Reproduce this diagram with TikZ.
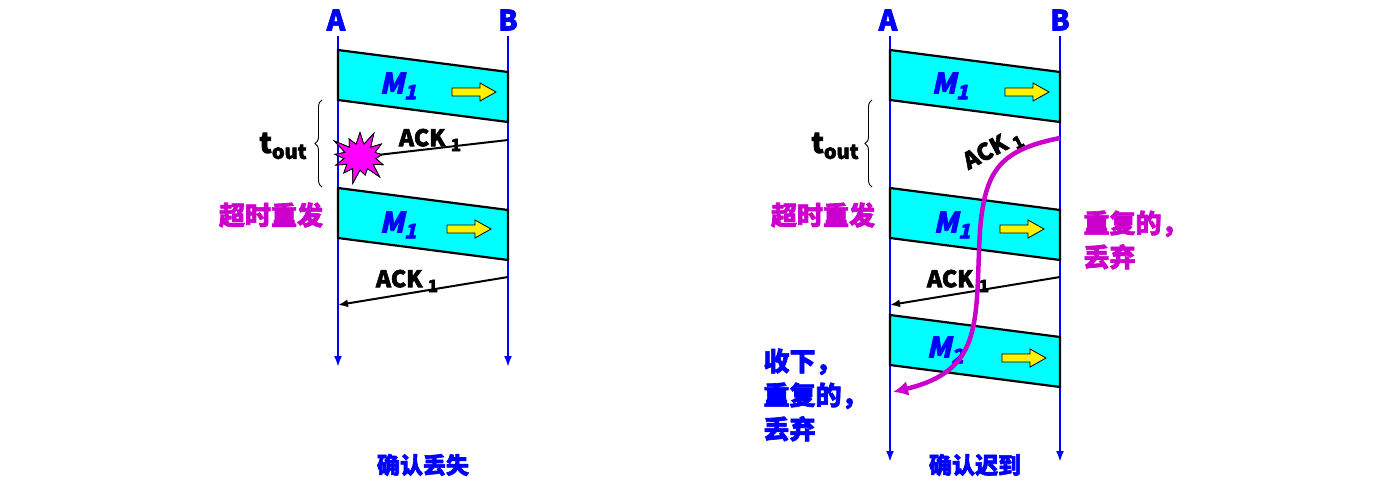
\documentclass[tikz,border=0pt]{standalone}
\usepackage{fontspec}
\setmainfont{Noto Sans CJK SC}[BoldFeatures={FakeBold=2.5}]
\newfontfamily\slfont{Noto Sans CJK SC}[FakeSlant=0.22, BoldFeatures={FakeBold=2.5}]
\usetikzlibrary{shapes.symbols,decorations.pathreplacing,arrows.meta}
\definecolor{cyanbox}{RGB}{0,255,255}
\definecolor{mag}{RGB}{204,0,204}
\definecolor{boomfill}{RGB}{255,0,255}
\tikzset{
  axis/.style={blue, line width=2.6pt, -{Latex[length=11pt,width=8pt]}},
  frame/.style={fill=cyanbox, draw=black, line width=2.2pt},
  msg/.style={blue, font=\slfont\bfseries\fontsize{28}{28}\selectfont},
  ack/.style={font=\bfseries\fontsize{23}{23}\selectfont},
  lbl/.style={font=\bfseries\fontsize{26}{34}\selectfont, align=left},
  ackline/.style={black, line width=2pt},
  boomstar/.style={starburst, starburst points=13, starburst point height=16pt, fill=boomfill, draw=black, line width=0.8pt, minimum width=64pt, minimum height=58pt, inner sep=0pt},
}
\newcommand{\yarrow}[2]{%
  \fill[yellow, draw=black, line width=0.8pt] (#1,#2-4) -- (#1+28,#2-4) -- (#1+28,#2-9) -- (#1+44,#2) -- (#1+28,#2+9) -- (#1+28,#2+4) -- (#1,#2+4) -- cycle;}
\newcommand{\acktxt}{ACK \raisebox{-5pt}{\fontsize{17}{17}\selectfont 1}}
\begin{document}
\begin{tikzpicture}[x=1pt, y=-1pt]
  \useasboundingbox (0,0) rectangle (1388,495);
  % left: ack lost
  \node[blue, font=\bfseries\fontsize{28}{28}\selectfont] (la) at (336,20) {A};
  \node[blue, font=\bfseries\fontsize{28}{28}\selectfont] (lb) at (508,20) {B};
  \draw[axis] (338,36) -- (338,367);
  \draw[axis] (508,36) -- (508,367);
  \draw[frame] (338,50) -- (508,72) -- (508,122) -- (338,100) -- cycle;
  \draw[frame] (338,188) -- (508,210) -- (508,260) -- (338,238) -- cycle;
  \node[msg] (lm1) at (398,86) {M\raisebox{-6pt}{\fontsize{20}{20}\selectfont 1}};
  \node[msg] (lm2) at (398,225) {M\raisebox{-6pt}{\fontsize{20}{20}\selectfont 1}};
  \yarrow{452}{92}
  \yarrow{447}{229}
  \coordinate (lk1) at (508,140);
  \coordinate (lk2) at (508,277);
  \node[boomstar] (boom) at (360,157) {};
  \draw[ackline] (lk1) -- (boom.center);
  \node[boomstar] at (boom) {};
  \node[ack] (lt1) at (430,140) {\acktxt};
  \draw[ackline, -{Latex[length=10pt,width=8pt]}] (lk2) -- (338,305);
  \node[ack] (lt2) at (407,281) {\acktxt};
  \draw[decorate, decoration={brace, amplitude=7pt}, line width=0.9pt] (322,187) -- (322,100);
  \node[font=\bfseries\fontsize{28}{28}\selectfont] (lto) at (283,146) {t\raisebox{-6pt}{\fontsize{20}{20}\selectfont out}};
  \node[lbl, mag] (lre) at (271,215) {超时重发};
  \node[lbl, blue, font=\bfseries\fontsize{23}{23}\selectfont] (lcap) at (423,465) {确认丢失};
  % right: ack late
  \node[blue, font=\bfseries\fontsize{28}{28}\selectfont] (ra) at (888,20) {A};
  \node[blue, font=\bfseries\fontsize{28}{28}\selectfont] (rb) at (1060,20) {B};
  \draw[axis] (890,36) -- (890,462);
  \draw[axis] (1060,36) -- (1060,462);
  \draw[frame] (890,50) -- (1060,72) -- (1060,122) -- (890,100) -- cycle;
  \draw[frame] (890,188) -- (1060,210) -- (1060,260) -- (890,238) -- cycle;
  \draw[frame] (890,315) -- (1060,337) -- (1060,387) -- (890,365) -- cycle;
  \node[msg] (rm1) at (950,86) {M\raisebox{-6pt}{\fontsize{20}{20}\selectfont 1}};
  \node[msg] (rm2) at (952,225) {M\raisebox{-6pt}{\fontsize{20}{20}\selectfont 1}};
  \node[msg] (rm3) at (945,350) {M\raisebox{-6pt}{\fontsize{20}{20}\selectfont 2}};
  \yarrow{1005}{92}
  \yarrow{1000}{229}
  \yarrow{1002}{358}
  \coordinate (rk1) at (1060,138);
  \coordinate (rk2) at (1060,277);
  \coordinate (rend) at (893,392);
  \draw[ackline, -{Latex[length=10pt,width=8pt]}] (rk2) -- (890,305);
  \node[ack] (rt2) at (958,281) {\acktxt};
  \node[ack, rotate=28] (rt1) at (993,150) {\acktxt};
  \draw[mag, line width=4.5pt, -{Latex[length=15pt,width=15pt]}] (rk1) .. controls (1000,150) and (985,170) .. (980,230)
     .. controls (975,320) and (985,370) .. (rend);
  \draw[decorate, decoration={brace, amplitude=7pt}, line width=0.9pt] (872,187) -- (872,100);
  \node[font=\bfseries\fontsize{28}{28}\selectfont] (rto) at (835,146) {t\raisebox{-6pt}{\fontsize{20}{20}\selectfont out}};
  \node[lbl, mag] (rre) at (823,215) {超时重发};
  \node[lbl, mag, anchor=west] (rdup) at (1080,240) {重复的，\\丢弃};
  \node[lbl, blue, anchor=west] (rrecv) at (760,395) {收下，\\重复的，\\丢弃};
  \node[lbl, blue, font=\bfseries\fontsize{23}{23}\selectfont] (rcap) at (975,465) {确认迟到};
\end{tikzpicture}
\end{document}
